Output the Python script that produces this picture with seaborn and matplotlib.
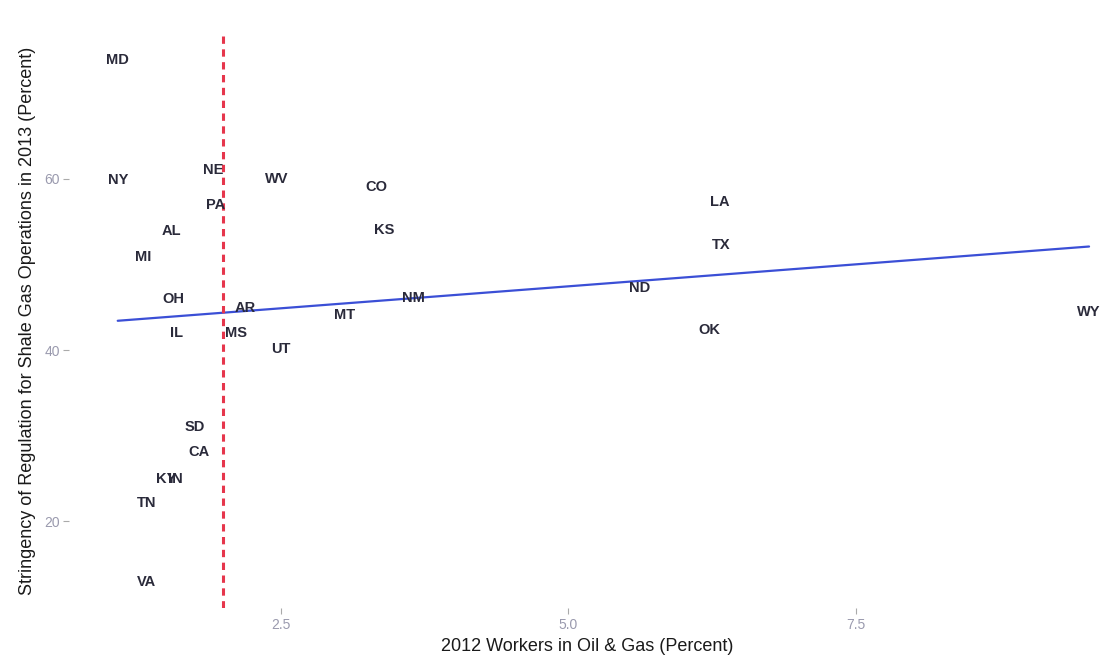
import matplotlib
matplotlib.use("Agg")
import matplotlib.pyplot as plt
import seaborn as sns
import pandas as pd

# State-level shale gas regulation vs. oil & gas employment share
states = ["MD", "NY", "NE", "WV", "PA", "AL", "CO", "KS", "LA", "TX",
          "MI", "OH", "AR", "IL", "MS", "UT", "MT", "NM", "ND", "OK",
          "WY", "SD", "CA", "KY", "IN", "TN", "VA"]
workers_2012 = [1.08, 1.08, 1.91, 2.46, 1.93, 1.55, 3.33, 3.40, 6.32, 6.33,
                1.30, 1.56, 2.19, 1.59, 2.11, 2.50, 3.05, 3.65, 5.62, 6.23,
                9.53, 1.75, 1.79, 1.50, 1.58, 1.33, 1.33]
stringency_2013 = [73.9, 59.9, 61.1, 60.0, 57.0, 53.9, 59.1, 54.0, 57.3, 52.3,
                   50.9, 46.0, 44.9, 42.0, 42.0, 40.1, 44.1, 46.1, 47.3, 42.3,
                   44.4, 31.0, 28.1, 24.9, 24.9, 22.1, 12.9]
threshold = 2.0
x_ticks = [2.5, 5.0, 7.5]
y_ticks = [20, 40, 60]

df = pd.DataFrame({"state": states, "workers": workers_2012,
                   "stringency": stringency_2013})

sns.set_theme(style="white")
plt.rcParams["font.family"] = ["Liberation Sans", "DejaVu Sans"]

fig = plt.figure(figsize=(11.04, 6.59), dpi=100)
ax = fig.add_axes([0.0629, 0.0777, 0.9371, 0.8706])

# Linear fit without confidence band
sns.regplot(data=df, x="workers", y="stringency", scatter=False, ci=None,
            truncate=True, color="#3b4fd6", line_kws={"linewidth": 1.6}, ax=ax)

# Text labels at each state's position
for _, r in df.iterrows():
    ax.text(r["workers"], r["stringency"], r["state"], ha="center", va="center",
            fontsize=10.5, fontweight="bold", color="#2a2a3a")

ax.axvline(threshold, color="#e6364c", linewidth=2.2, linestyle=(0, (2.4, 1.8)))

ax.set_xlim(0.66, 9.66)
ax.set_ylim(9.85, 76.95)
ax.set_xticks(x_ticks)
ax.set_xticklabels(["2.5", "5.0", "7.5"])
ax.set_yticks(y_ticks)
ax.tick_params(axis="both", which="both", length=4, width=0.8, color="#aaaaaa",
               labelcolor="#9a9aae", labelsize=10, direction="out",
               bottom=True, left=True, pad=3)
for s in ax.spines.values():
    s.set_visible(False)
ax.grid(False)

ax.set_xlabel("2012 Workers in Oil & Gas (Percent)", fontsize=13, color="#1a1a1a",
              labelpad=5)
ax.set_ylabel("Stringency of Regulation for Shale Gas Operations in 2013 (Percent)",
              fontsize=13, color="#1a1a1a", labelpad=6)

fig.savefig("out.png", dpi=100)
